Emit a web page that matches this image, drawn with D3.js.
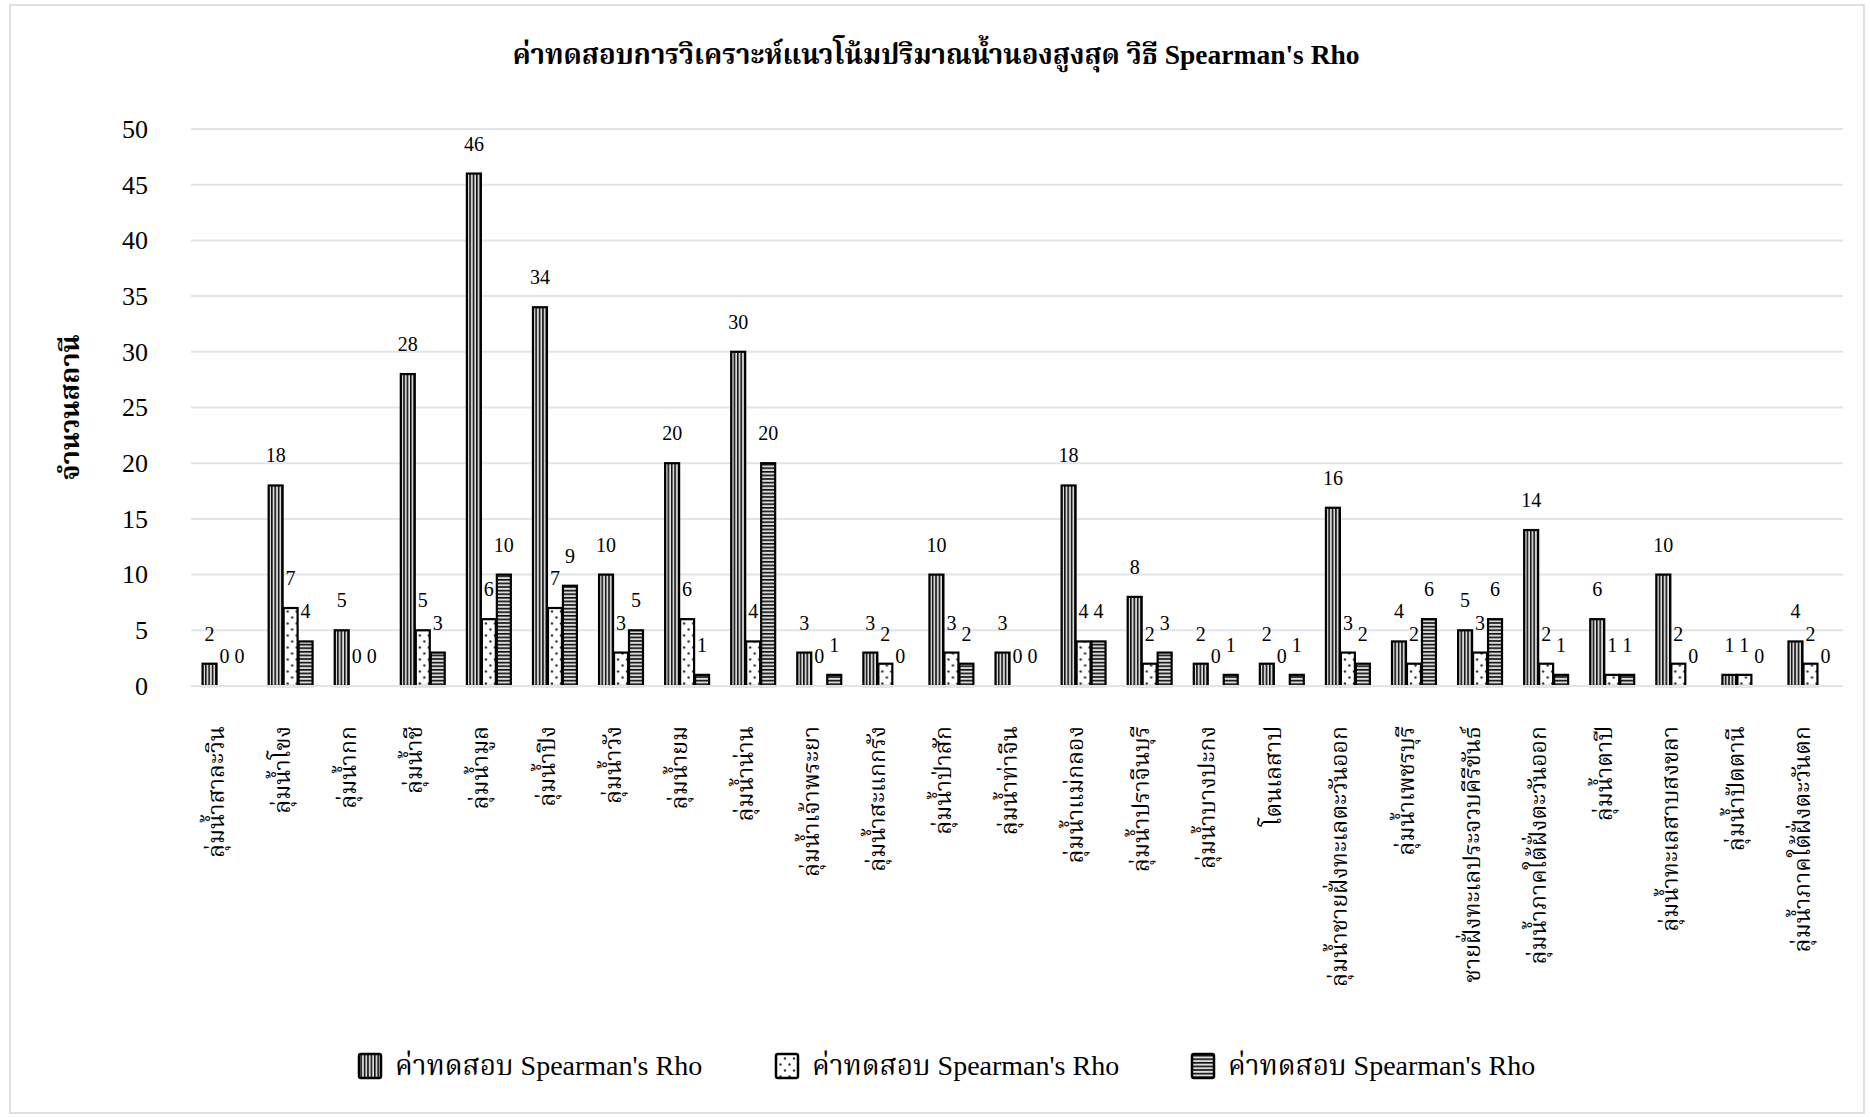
<!DOCTYPE html>
<html>
<head>
<meta charset="utf-8">
<script src="https://cdn.jsdelivr.net/npm/d3@7"></script>
<style>
  html, body { margin: 0; padding: 0; background: #fff; }
  svg { display: block; }
  svg text { font-family: "Liberation Serif", "Noto Serif Thai", "Noto Sans Thai", "Tlwg Typo", serif; }
</style>
</head>
<body>
<svg id="chart" width="1870" height="1117"></svg>
<script>
// River basins (categories)
const basins = [
  "ลุ่มน้ำสาละวิน", "ลุ่มน้ำโขง", "ลุ่มน้ำกก", "ลุ่มน้ำชี", "ลุ่มน้ำมูล",
  "ลุ่มน้ำปิง", "ลุ่มน้ำวัง", "ลุ่มน้ำยม", "ลุ่มน้ำน่าน", "ลุ่มน้ำเจ้าพระยา",
  "ลุ่มน้ำสะแกกรัง", "ลุ่มน้ำป่าสัก", "ลุ่มน้ำท่าจีน", "ลุ่มน้ำแม่กลอง", "ลุ่มน้ำปราจีนบุรี",
  "ลุ่มน้ำบางปะกง", "โตนเลสาป", "ลุ่มน้ำชายฝั่งทะเลตะวันออก", "ลุ่มน้ำเพชรบุรี", "ชายฝั่งทะเลประจวบคีรีขันธ์",
  "ลุ่มน้ำภาคใต้ฝั่งตะวันออก", "ลุ่มน้ำตาปี", "ลุ่มน้ำทะเลสาบสงขลา", "ลุ่มน้ำปัตตานี", "ลุ่มน้ำภาคใต้ฝั่งตะวันตก"
];

// Station counts per basin, one array per series
const seriesA = [2, 18, 5, 28, 46, 34, 10, 20, 30, 3, 3, 10, 3, 18, 8, 2, 2, 16, 4, 5, 14, 6, 10, 1, 4];
const seriesB = [0, 7, 0, 5, 6, 7, 3, 6, 4, 0, 2, 3, 0, 4, 2, 0, 0, 3, 2, 3, 2, 1, 2, 1, 2];
const seriesC = [0, 4, 0, 3, 10, 9, 5, 1, 20, 1, 0, 2, 0, 4, 3, 1, 1, 2, 6, 6, 1, 1, 0, 0, 0];

const seriesNames = ["ค่าทดสอบ Spearman's Rho", "ค่าทดสอบ Spearman's Rho", "ค่าทดสอบ Spearman's Rho"];
const yTicks = [0, 5, 10, 15, 20, 25, 30, 35, 40, 45, 50];

const titleText = "ค่าทดสอบการวิเคราะห์แนวโน้มปริมาณน้ำนองสูงสุด วิธี Spearman's Rho";
const yTitle = "จำนวนสถานี";

const FONT = '"Liberation Serif", "Noto Serif Thai", "Noto Sans Thai", "Tlwg Typo", serif';

const W = 1870, H = 1117;
const margin = { left: 191, right: 27, top: 129, bottom: 431 };
const plotW = W - margin.left - margin.right;
const plotH = H - margin.top - margin.bottom;

const svg = d3.select("#chart");

// outer frame
svg.append("rect")
  .attr("x", 10).attr("y", 5).attr("width", W - 16).attr("height", H - 9)
  .attr("fill", "#fff").attr("stroke", "#dde1e7").attr("stroke-width", 2);

// fill patterns
const defs = svg.append("defs");
const pV = defs.append("pattern").attr("id", "pV").attr("patternUnits", "userSpaceOnUse")
  .attr("width", 3.4).attr("height", 10);
pV.append("rect").attr("width", 3.4).attr("height", 10).attr("fill", "#b8b8b8");
pV.append("rect").attr("x", 0).attr("width", 1.5).attr("height", 10).attr("fill", "#111");
pV.append("rect").attr("x", 2.3).attr("width", 0.7).attr("height", 10).attr("fill", "#fff");

const pH = defs.append("pattern").attr("id", "pH").attr("patternUnits", "userSpaceOnUse")
  .attr("width", 10).attr("height", 3.6);
pH.append("rect").attr("width", 10).attr("height", 3.6).attr("fill", "#c4c4c4");
pH.append("rect").attr("y", 0).attr("width", 10).attr("height", 1.6).attr("fill", "#111");
pH.append("rect").attr("y", 2.3).attr("width", 10).attr("height", 0.7).attr("fill", "#fff");

const pD = defs.append("pattern").attr("id", "pD").attr("patternUnits", "userSpaceOnUse")
  .attr("width", 9).attr("height", 12);
pD.append("rect").attr("width", 9).attr("height", 12).attr("fill", "#fff");
pD.append("circle").attr("cx", 2).attr("cy", 2.5).attr("r", 1.2).attr("fill", "#333");
pD.append("circle").attr("cx", 6.5).attr("cy", 8.5).attr("r", 1.2).attr("fill", "#333");

const fills = ["url(#pV)", "url(#pD)", "url(#pH)"];

const g = svg.append("g").attr("transform", `translate(${margin.left},${margin.top})`);

const x0 = d3.scaleBand().domain(basins).range([0, plotW]).paddingInner(0.32).paddingOuter(0.16);
const x1 = d3.scaleBand().domain([0, 1, 2]).range([0, x0.bandwidth()]);
const y = d3.scaleLinear().domain([0, 50]).range([plotH, 0]);

// gridlines
g.append("g").selectAll("line").data(yTicks).join("line")
  .attr("x1", 0).attr("x2", plotW)
  .attr("y1", d => y(d)).attr("y2", d => y(d))
  .attr("stroke", "#e1e4ea").attr("stroke-width", 2);

// y axis tick labels
const yAxis = d3.axisLeft(y).tickValues(yTicks).tickSize(0).tickPadding(43);
const ya = g.append("g").call(yAxis)
  .attr("font-family", FONT).attr("font-size", 26);
ya.select(".domain").remove();
ya.selectAll("text").attr("fill", "#000");

// bars
const data = basins.map((b, i) => ({ basin: b, vals: [seriesA[i], seriesB[i], seriesC[i]] }));
const groups = g.append("g").selectAll("g").data(data).join("g")
  .attr("transform", d => `translate(${x0(d.basin)},0)`);

groups.selectAll("rect").data(d => d.vals.map((v, k) => ({ v, k })).filter(e => e.v > 0)).join("rect")
  .attr("x", e => x1(e.k) + 1)
  .attr("width", x1.bandwidth() - 1)
  .attr("y", e => y(e.v))
  .attr("height", e => y(0) - y(e.v))
  .attr("fill", e => fills[e.k])
  .attr("stroke", "#000").attr("stroke-width", 2.2);

// value labels
groups.selectAll("text").data(d => d.vals.map((v, k) => ({ v, k }))).join("text")
  .attr("x", e => x1(e.k) + x1.bandwidth() / 2 + 0.5)
  .attr("y", e => y(e.v) - 23)
  .attr("text-anchor", "middle")
  .attr("font-size", 20)
  .attr("fill", "#000")
  .text(e => e.v);

// baseline
g.append("line").attr("x1", 0).attr("x2", plotW).attr("y1", y(0)).attr("y2", y(0))
  .attr("stroke", "#e1e4ea").attr("stroke-width", 2);

// category labels, rotated
g.append("g").selectAll("text").data(basins).join("text")
  .attr("transform", d => `translate(${x0(d) + x0.bandwidth() / 2 - 8},${plotH + 40}) rotate(-90)`)
  .attr("text-anchor", "end")
  .attr("dy", "0.35em")
  .attr("font-size", 23)
  .attr("fill", "#000")
  .text(d => d);

// y axis title
svg.append("text")
  .attr("transform", `translate(70,${margin.top + plotH / 2}) rotate(-90)`)
  .attr("text-anchor", "middle").attr("dy", "0.35em")
  .attr("font-size", 27).attr("font-weight", "bold")
  .text(yTitle);

// chart title
svg.append("text")
  .attr("x", 936).attr("y", 64)
  .attr("text-anchor", "middle")
  .attr("font-size", 27.5).attr("font-weight", "bold")
  .text(titleText);

// legend
const legendX = [357, 774, 1190];
const lg = svg.append("g");
seriesNames.forEach((name, k) => {
  lg.append("rect")
    .attr("x", legendX[k] + 2).attr("y", 1054)
    .attr("width", 22).attr("height", 24).attr("rx", 2)
    .attr("fill", fills[k]).attr("stroke", "#000").attr("stroke-width", 2.5);
  lg.append("text")
    .attr("x", legendX[k] + 38).attr("y", 1075)
    .attr("font-size", 28).attr("fill", "#000")
    .text(name);
});
</script>
</body>
</html>
